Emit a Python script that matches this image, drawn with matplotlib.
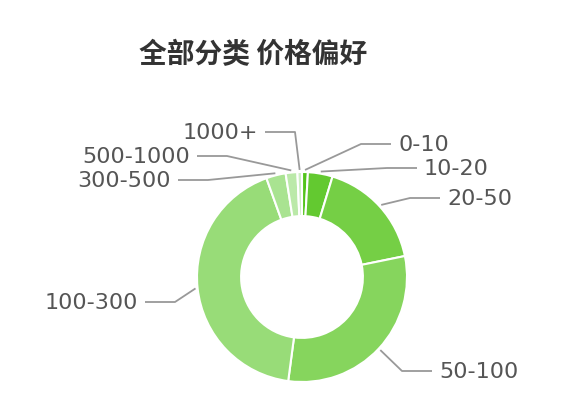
import matplotlib.pyplot as plt
import numpy as np

plt.rcParams['font.family'] = ['Noto Sans CJK SC', 'DejaVu Sans']

# data (percent share of each price range)
categories = ['0-10', '10-20', '20-50', '50-100', '100-300', '300-500', '500-1000', '1000+']
shares = [0.9, 3.8, 17.1, 30.3, 42.4, 3.0, 1.8, 0.7]

colors = ['#52c41a', '#63c930', '#75cf45', '#86d55d', '#98dc78', '#a9e391', '#bbe9a9', '#cdefc3']

# layout in pixel units (center of donut, radius)
W, H = 568, 410
cx, cy, R = 302, 278, 105

# knee point of each leader line (pixels) and side
knees = {
    '0-10': (361, 145, 1),
    '10-20': (387, 169, 1),
    '20-50': (410, 199, 1),
    '50-100': (402, 372, 1),
    '100-300': (175, 303, -1),
    '300-500': (208, 181, -1),
    '500-1000': (227, 157, -1),
    '1000+': (295, 133, -1),
}

def px(x, y):
    return (x - cx) / R, (cy - y) / R

fig = plt.figure(figsize=(W / 100, H / 100), dpi=100)
ax = fig.add_axes([0, 0, 1, 1])

wedges, _ = ax.pie(shares, colors=colors, startangle=90, counterclock=False,
                   radius=1.0, wedgeprops=dict(width=0.42, edgecolor='white', linewidth=1.5))

ax.set_xlim(-cx / R, (W - cx) / R)
ax.set_ylim(-(H - cy) / R, cy / R)
ax.set_aspect('equal')
ax.axis('off')

for w, name in zip(wedges, categories):
    mid = np.deg2rad((w.theta1 + w.theta2) / 2)
    sx, sy = 1.02 * np.cos(mid), 1.02 * np.sin(mid)
    kx, ky, side = knees[name]
    kx, ky = px(kx, ky)
    ex = kx + side * 30 / R
    ax.plot([sx, kx, ex], [sy, ky, ky], color='#999999', lw=1.3, solid_capstyle='butt')
    ax.text(ex + side * 7 / R, ky, name, ha='left' if side > 0 else 'right', va='center',
            fontsize=16, color='#555555', family='DejaVu Sans')

fig.text(253 / W, 1 - 55 / H, '全部分类 价格偏好', ha='center', va='center',
         fontsize=20, fontweight='bold', color='#333333')

fig.savefig('out.png', dpi=100)
